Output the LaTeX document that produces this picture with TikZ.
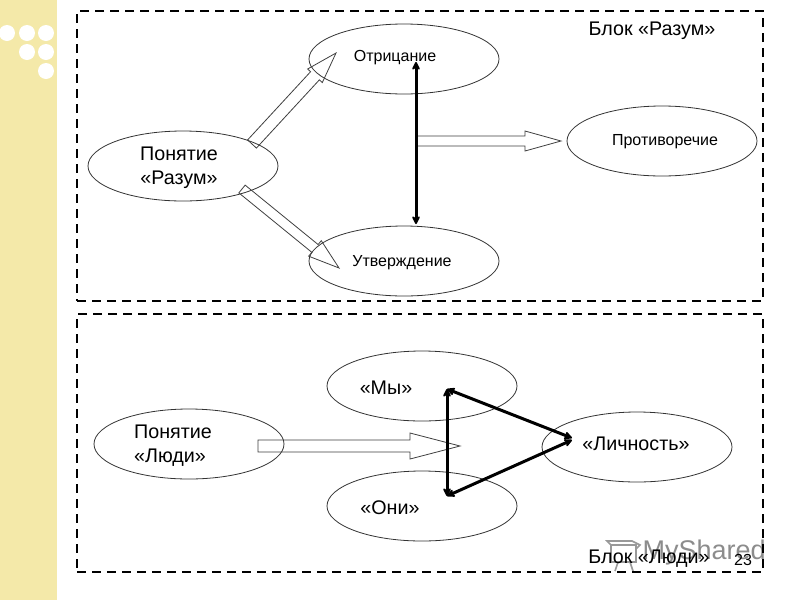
\documentclass[tikz,border=0pt]{standalone}
\usepackage{fontspec}
\setmainfont{Liberation Sans}
\usepackage{xcolor}
\usepackage{tikz}
\usetikzlibrary{shapes.geometric,arrows.meta,calc}

\definecolor{bandyellow}{HTML}{F4E9A9}

% hollow block arrow: tail, tip, half width of shaft, half width of head, length of head
\newcommand{\blockarrow}[5]{
	\coordinate (headbase) at ($(#2)!#5!(#1)$);
	\draw[hollowline] ($(#1)!#3!90:(#2)$) -- ($(headbase)!#3!-90:(#1)$) -- ($(headbase)!#4!-90:(#1)$) -- (#2)
		-- ($(headbase)!#4!90:(#1)$) -- ($(headbase)!#3!90:(#1)$) -- ($(#1)!#3!-90:(#2)$) -- cycle;
}

\begin{document}
\begin{tikzpicture}[x=1pt, y=-1pt, font=\fontsize{19.7}{24}\selectfont, >={Stealth[round,length=10pt,width=10pt]},
	oval/.style={draw=black!80, line width=0.8pt, ellipse, minimum width=190pt, minimum height=70pt, inner sep=0pt},
	hollowline/.style={draw=black!75, line width=0.8pt},
	blockframe/.style={draw=black, line width=2.4pt, dash pattern=on 9pt off 6pt},
	boldline/.style={draw=black, line width=3pt, <->},
	smalltext/.style={font=\fontsize{16}{18}\selectfont}]

\useasboundingbox (0,0) rectangle (800,600);
\fill[white] (0,0) rectangle (800,600);

% ---- side band ----
\fill[bandyellow] (0,0) rectangle (57,600);
\foreach \dx/\dy in {7/33,27/33,46/33,27/52,46/52,46/71}
	\fill[white] (\dx,\dy) circle (8);

% ---- watermark ----
\begin{scope}[draw=black!40, line width=1.6pt]
	\draw (611,545) rectangle (636,562);
	\draw (611,545) -- (607,541) -- (632,541) -- (640,545) -- (636,549);
	\draw (618,562) -- (615,571);
	\draw (630,562) -- (633,571);
\end{scope}
\node[text=black!45, font=\fontsize{27}{30}\selectfont, anchor=west] (watermark) at (639,553) {MyShared};

% ---- block 1 ----
\node[blockframe, draw, minimum width=686pt, minimum height=290pt, inner sep=0pt] (blockOne) at (420,156) {};
\node[oval] (ponyatieRazum) at (183,166) {};
\node[oval] (otricanie) at (404,59) {};
\node[oval] (utverzhdenie) at (404,261) {};
\node[oval] (protivorechie) at (662,141) {};

\node[align=center] (ponyatieRazumText) at (179,168) {Понятие\\«Разум»};
\node[smalltext] (otricanieText) at (395,58) {Отрицание};
\node[smalltext] (utverzhdenieText) at (402,263) {Утверждение};
\node[smalltext] (protivorechieText) at (665,142) {Противоречие};
\node (blockOneText) at (652,31) {Блок «Разум»};

\coordinate (tailUp) at (252,144);
\coordinate (tipUp) at (336,53);
\coordinate (tailDown) at (242,189);
\coordinate (tipDown) at (339,268);
\coordinate (tailRight) at (416,141);
\coordinate (tipRight) at (561,141);
\blockarrow{tailUp}{tipUp}{6pt}{10pt}{31pt}
\blockarrow{tailDown}{tipDown}{5pt}{10pt}{31pt}
\blockarrow{tailRight}{tipRight}{5pt}{10pt}{36pt}

\coordinate (otricanieEnd) at (416,62);
\coordinate (utverzhdenieEnd) at (416,224);
\draw[boldline] (otricanieEnd) -- (utverzhdenieEnd);

% ---- block 2 ----
\node[blockframe, draw, minimum width=686pt, minimum height=258pt, inner sep=0pt] (blockTwo) at (420,443) {};
\node[oval] (ponyatieLyudi) at (189,444) {};
\node[oval] (my) at (422,386) {};
\node[oval] (oni) at (422,506) {};
\node[oval] (lichnost) at (637,447) {};

\node[align=left, anchor=west, inner sep=0pt] (ponyatieLyudiText) at (134,446) {Понятие\\«Люди»};
\node (myText) at (386,388) {«Мы»};
\node (oniText) at (390,508) {«Они»};
\node (lichnostText) at (636,444) {«Личность»};
\node (blockTwoText) at (649,559) {Блок «Люди»};
\node[smalltext] (pageNumber) at (743,560) {23};

\coordinate (tailLyudi) at (258,446);
\coordinate (tipLyudi) at (460,446);
\blockarrow{tailLyudi}{tipLyudi}{6pt}{13pt}{50pt}

\coordinate (cornerTop) at (447,389);
\coordinate (cornerBottom) at (447,496);
\coordinate (cornerRightA) at (572,438);
\coordinate (cornerRightB) at (572,440);
\draw[boldline] (cornerTop) -- (cornerBottom);
\draw[boldline] (cornerTop) -- (cornerRightA);
\draw[boldline] (cornerBottom) -- (cornerRightB);
\end{tikzpicture}
\end{document}
